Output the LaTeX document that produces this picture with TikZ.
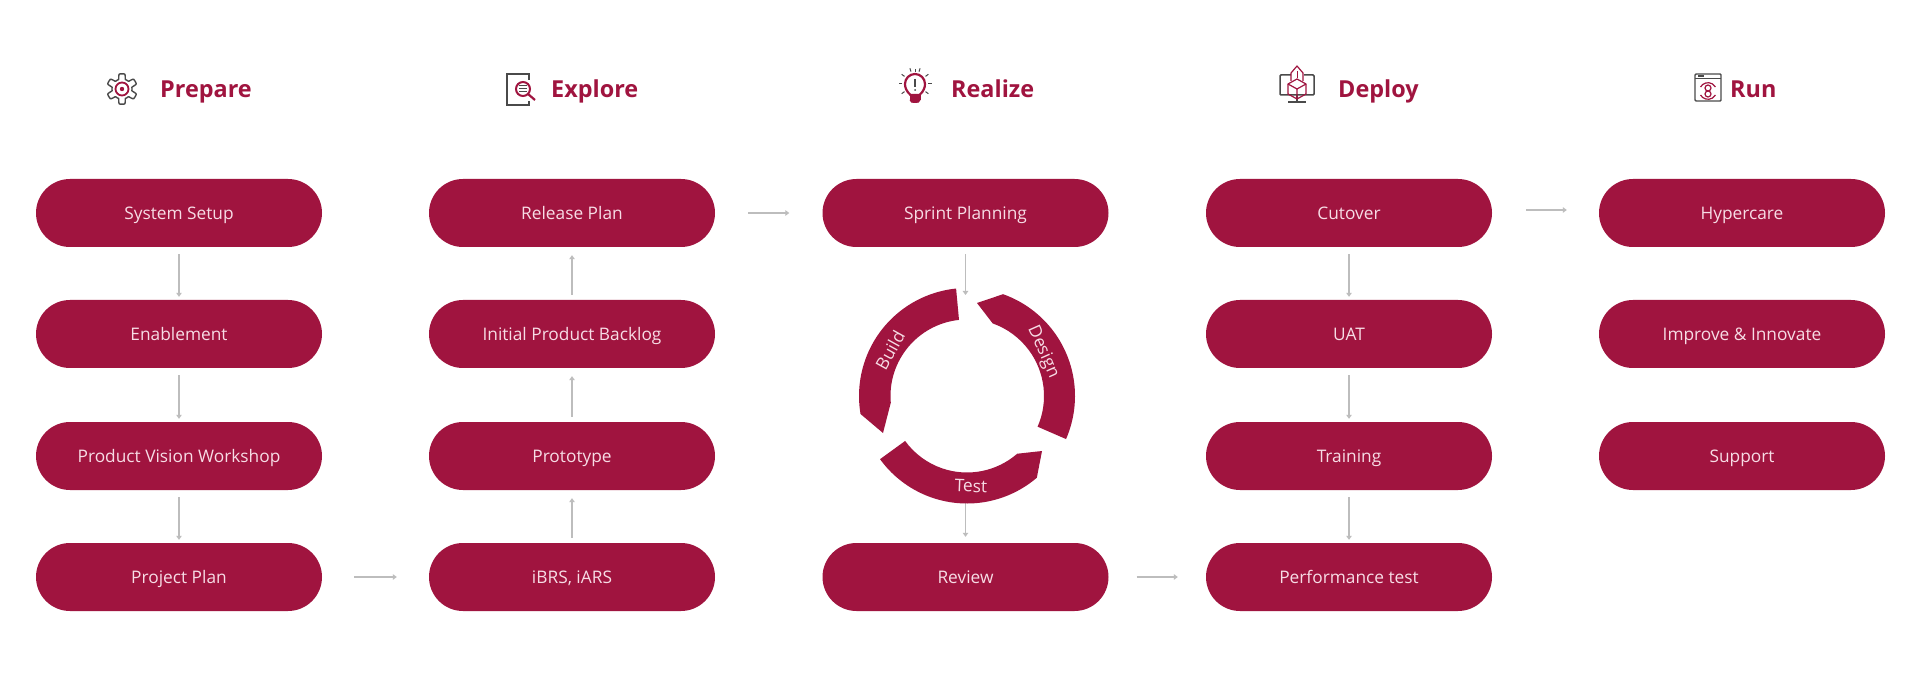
\documentclass[tikz,border=0pt]{standalone}
\usepackage{fontspec}
\setmainfont{Open Sans}
\usetikzlibrary{arrows.meta,calc}
\definecolor{brand}{HTML}{A0143F}
\definecolor{pilltext}{HTML}{F7DCE5}
\definecolor{flowgray}{HTML}{BDBDBD}
\definecolor{icongray}{HTML}{4A4A4A}
\tikzset{
  pill/.style={rectangle,rounded corners=34pt,fill=brand,minimum width=286pt,minimum height=68pt,
    inner sep=0pt,text=pilltext,text height=12.4pt,text depth=0pt,font=\fontsize{17.3}{20}\selectfont},
  head/.style={anchor=base west,inner sep=0pt,text=brand,font=\fontsize{23.4}{28}\selectfont\bfseries},
  ringlabel/.style={inner sep=0pt,text=pilltext,font=\fontsize{17.3}{20}\selectfont},
  flow/.style={draw=flowgray,line width=1.5pt,-{Triangle[width=5.5pt,length=4pt]}},
  seg/.style={fill=brand},
  icg/.style={draw=icongray,line width=1.4pt},
  icb/.style={draw=brand,line width=1.5pt},
}
\begin{document}
\begin{tikzpicture}[x=1pt,y=1pt]
\useasboundingbox (0,0) rectangle (1920,673);
\fill[white] (0,0) rectangle (1920,673);
% column 1
\node[pill] (sys) at (179,460) {System Setup};
\node[pill] (ena) at (179,339) {Enablement};
\node[pill] (pvw) at (179,217) {Product Vision Workshop};
\node[pill] (ppl) at (179,96) {Project Plan};
% column 2
\node[pill] (rel) at (572,460) {Release Plan};
\node[pill] (ipb) at (572,339) {Initial Product Backlog};
\node[pill] (pro) at (572,217) {Prototype};
\node[pill] (ibr) at (572,96) {iBRS, iARS};
% column 3
\node[pill] (spr) at (965.5,460) {Sprint Planning};
\node[pill] (rev) at (965.5,96) {Review};
% column 4
\node[pill] (cut) at (1349,460) {Cutover};
\node[pill] (uat) at (1349,339) {UAT};
\node[pill] (tra) at (1349,217) {Training};
\node[pill] (prf) at (1349,96) {Performance test};
% column 5
\node[pill] (hyp) at (1742,460) {Hypercare};
\node[pill] (imp) at (1742,339) {Improve \& Innovate};
\node[pill] (sup) at (1742,217) {Support};
% headers
\node[head] (h1) at (160,575.5) {Prepare};
\node[head] (h2) at (551,575.5) {Explore};
\node[head] (h3) at (951,575.5) {Realize};
\node[head] (h4) at (1338,575.5) {Deploy};
\node[head] (h5) at (1730,575.5) {Run};
% connectors
\begin{scope}[shorten <=7pt,shorten >=3pt]
\draw[flow] (sys) -- (ena);
\draw[flow] (ena) -- (pvw);
\draw[flow] (pvw) -- (ppl);
\draw[flow] (cut) -- (uat);
\draw[flow] (uat) -- (tra);
\draw[flow] (tra) -- (prf);
\end{scope}
\begin{scope}[shorten <=5pt,shorten >=8pt]
\draw[flow] (ibr) -- (pro);
\draw[flow] (pro) -- (ipb);
\draw[flow] (ipb) -- (rel);
\end{scope}
\draw[flow,shorten <=32pt,shorten >=32pt] (ppl) -- (ibr);
\draw[flow,shorten <=33pt,shorten >=33pt] (rel) -- (spr);
\draw[flow,shorten <=28pt,shorten >=28pt] (rev) -- (prf);
\draw[flow,shorten <=34pt,shorten >=32pt] ([yshift=3pt]cut.east) -- ([yshift=3pt]hyp.west);
\coordinate (ringtop) at (965.5,378);
\coordinate (ringbot) at (965.5,170);
\draw[flow,shorten <=7pt] (spr) -- (ringtop);
\draw[flow,shorten >=6pt] (ringbot) -- (rev);
% cycle ring
\coordinate (rc) at (967,277);
\fill[seg] ($(rc)+(70.5:108)$) arc[start angle=70.5,end angle=-23.5,radius=108pt]
  -- ($(rc)+(-23.5:77)$) arc[start angle=-23.5,end angle=70.5,radius=77pt]
  -- (977,370) -- cycle;
\fill[seg] ($(rc)+(95.8:108)$) arc[start angle=95.8,end angle=189.6,radius=108pt]
  -- (883,240) -- ($(rc)+(185:76.5)$) arc[start angle=185,end angle=96,radius=76.5pt] -- cycle;
\fill[seg] ($(rc)+(216:107.5)$) arc[start angle=216,end angle=310.5,radius=107.5pt]
  -- (1042,222) -- ($(rc)+(-49:76.5)$) arc[start angle=-49,end angle=-144,radius=76.5pt] -- cycle;
\node[ringlabel,rotate=-66] (ldes) at (1043,321) {Design};
\node[ringlabel,rotate=61] (lbui) at (890,323) {Build};
\node[ringlabel,rotate=-2] (ltes) at (971,187) {Test};
% icon: gear
\draw[icg,line join=round] plot[domain=0:360,samples=145] ({122+(12.6+2.6*max(min(-2.5*cos(6*\x),1),-1))*cos(\x)},{584+(12.6+2.6*max(min(-2.5*cos(6*\x),1),-1))*sin(\x)}) -- cycle;
\draw[icb,line width=1.8pt] (122,584) circle[radius=6.5pt];
\fill[brand] (122,584) circle[radius=2.2pt];
% icon: document with lens
\draw[icg] (529,593) -- (529,599) -- (507,599) -- (507,568) -- (529,568) -- (529,572);
\draw[icb,line width=2pt] (523,584) circle[radius=7pt];
\draw[icb,line width=2.2pt] (528,579) -- (535,573);
\foreach \yy in {581,584,587}{\draw[icongray,line width=1pt] (519,\yy) -- (527,\yy);}
% icon: light bulb
\draw[icb,line width=2.2pt] (910.5,578) .. controls (906,582) and (905,586) .. (905,589)
  arc[start angle=180,end angle=0,radius=10pt] .. controls (925,586) and (924,582) .. (919.5,578) -- cycle;
\fill[brand] (909.5,578) rectangle (920.5,573);
\fill[brand] (909.5,573) .. controls (910,570) and (912,570) .. (915,570) .. controls (918,570) and (920,570) .. (920.5,573) -- cycle;
\draw[icongray,line width=1.6pt] (915,594) -- (915,586);
\fill[icongray] (915,583) circle[radius=1pt];
\foreach \aa in {0,36,72,108,144,180,216,-36}{\draw[icongray,line width=1pt] ($(915,589)+(\aa:13)$) -- ($(915,589)+(\aa:16.5)$);}
\draw[icongray,line width=1pt] (915,604) -- (915,600.5);
% icon: monitor with box and rocket
\draw[icg,line width=1.5pt,rounded corners=1pt] (1291,598) -- (1280,598) -- (1280,578) -- (1314,578) -- (1314,598) -- (1304,598);
\draw[icg,line width=2pt] (1297,578) -- (1297,571);
\draw[icg,line width=2.2pt] (1288,571) -- (1306,571);
\draw[icb,line width=1.2pt,line join=round] (1297,594) -- (1306,589) -- (1306,579) -- (1297,574) -- (1288,579) -- (1288,589) -- cycle;
\draw[icb,line width=1.2pt] (1288,589) -- (1297,584) -- (1306,589) (1297,584) -- (1297,574);
\draw[icb,line width=1.2pt,line join=round] (1291,592) -- (1291,600) -- (1297,607) -- (1303,600) -- (1303,592);
\draw[icb,line width=1pt] (1297,595) -- (1297,602);
% icon: run window
\draw[icg,rounded corners=1pt] (1695,572) rectangle (1721,599);
\draw[icg,line width=1pt] (1695,594) -- (1721,594);
\fill[icongray] (1697.5,595.5) rectangle (1704,597.5);
\draw[icb,line width=1.2pt] (1708,585) circle[radius=3pt];
\draw[icb,line width=1.2pt] (1708,579) circle[radius=3pt];
\draw[icb,line width=1.2pt] (1700.5,586) arc[start angle=150,end angle=30,radius=8.6pt];
\draw[icb,line width=1.2pt] (1700.5,578) arc[start angle=210,end angle=330,radius=8.6pt];
\end{tikzpicture}
\end{document}
